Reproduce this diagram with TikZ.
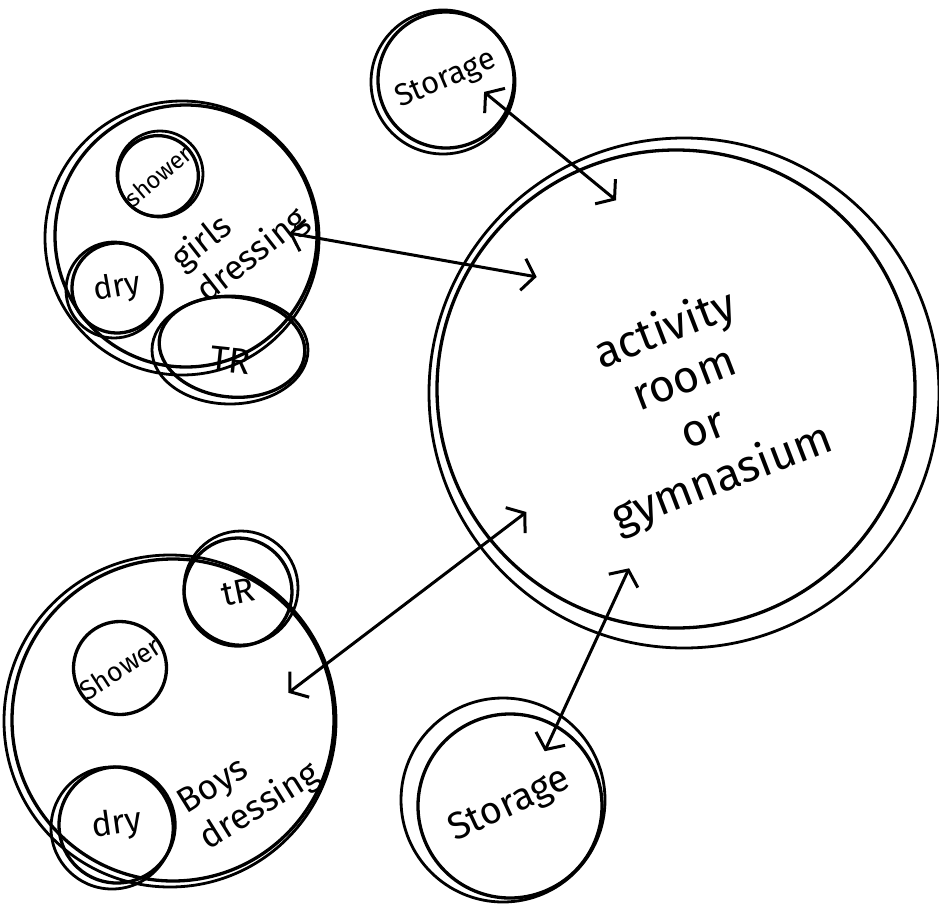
\documentclass[tikz,border=0pt]{standalone}
\usepackage{fontspec}
\setmainfont{Fira Sans}
\usetikzlibrary{arrows.meta,shapes.geometric}

\tikzstyle{room} = [circle, draw, line width=3.3pt, inner sep=0pt, align=center]
\tikzstyle{rimline} = [line width=2.8pt]
\tikzstyle{roomlabel} = [align=left, inner sep=0pt]
\tikzstyle{link} = [line width=3pt, >={Straight Barb[length=12pt,width=32pt]}, <->]

\begin{document}
\begin{tikzpicture}[x=1pt, y=-1pt]
  \useasboundingbox (0,0) rectangle (939,915);

  % main room
  \node[room, minimum size=478] (gym) at (676,389) {};
  \node[roomlabel, align=center, rotate=21, font=\fontsize{45}{53}\selectfont]
    (gymname) at (694,405) {activity\\room\\or\\gymnasium};

  % storage
  \node[room, minimum size=136, rotate=23, font=\fontsize{31}{34}\selectfont]
    (storeN) at (446,80) {Storage};
  \node[room, minimum size=184, rotate=25, font=\fontsize{38}{42}\selectfont]
    (storeS) at (510,806) {Storage};

  % girls
  \node[room, minimum size=262] (girls) at (186,236) {};
  \node[roomlabel, rotate=38, font=\fontsize{34}{41}\selectfont]
    (girlsname) at (240,240) {girls\\dressing};
  \node[room, minimum size=80, rotate=40, font=\fontsize{24}{26}\selectfont]
    (gshower) at (158,176) {shower};
  \node[room, minimum size=90, rotate=10, font=\fontsize{32}{34}\selectfont]
    (gdry) at (117,288) {dry};
  \node[room, ellipse, minimum width=146, minimum height=100, rotate=-6,
    font=\fontsize{36}{38}\selectfont] (gtr) at (232,347)
    {\raisebox{-13pt}[\height][\depth]{TR}};

  % boys
  \node[room, minimum size=322] (boys) at (173,720) {};
  \node[roomlabel, rotate=32, font=\fontsize{35}{42}\selectfont]
    (boysname) at (250,790) {Boys\\dressing};
  \node[room, minimum size=108, rotate=12, font=\fontsize{34}{36}\selectfont]
    (btr) at (238,592) {tR};
  \node[room, minimum size=92, rotate=33, font=\fontsize{27}{29}\selectfont]
    (bshower) at (120,668) {Shower};
  \node[room, minimum size=116, rotate=8, font=\fontsize{34}{36}\selectfont]
    (bdry) at (117,825) {dry};

  % second strokes
  \foreach \n/\dx/\dy/\r in {gym/8/4/255, storeN/-3/2/72, storeS/-7/-6/102,
      girls/-4/2/137, boys/-3/1/166, gshower/2/-2/43, gdry/-3/2/48,
      btr/3/-4/57, bdry/-5/3/61}
    \draw[rimline] (\n.center) ++(\dx,\dy) circle [radius=\r];
  \draw[rimline] (gtr.center) ++(-2,3) ellipse [x radius=78, y radius=54];

  % links
  \draw[link, shorten <=-31pt, shorten >=-49pt] (storeN.-50) -- (gym.114.9);
  \draw[link, shorten <=-30pt, shorten >=-68pt] (girls.-1) -- (gym.149);
  \draw[link, shorten <=-47pt, shorten >=-47pt] (boys.20) -- (gym.219.6);
  \draw[link, shorten <=-56pt, shorten >=-29pt] (gym.253) -- (storeS.35);
\end{tikzpicture}
\end{document}
